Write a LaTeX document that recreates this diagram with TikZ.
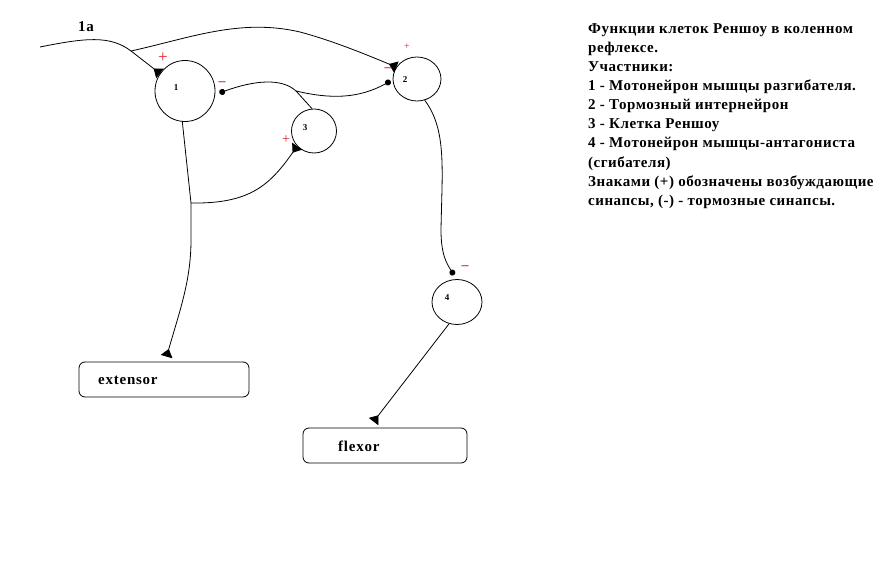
\documentclass[tikz,border=0pt]{standalone}
\usepackage{fontspec}
\setmainfont{Liberation Serif}
\usetikzlibrary{arrows.meta,calc,shapes.geometric}
\definecolor{sigred}{RGB}{225,30,40}
\begin{document}
\begin{tikzpicture}[x=1pt,y=-1pt,
  wire/.style={line width=0.8pt},
  cell/.style={draw,ellipse,line width=0.8pt,inner sep=0pt},
  musclebox/.style={draw,rounded corners=6pt,line width=0.8pt,minimum width=170pt,minimum height=35pt,inner sep=0pt},
  exc/.style={-{Triangle[reversed,length=8pt,width=12pt]}},
  inh/.style={-{Circle[length=6pt]}},
  num/.style={font=\bfseries\fontsize{9}{9}\selectfont},
  lbl/.style={font=\addfontfeature{LetterSpace=5}\bfseries\fontsize{15}{15}\selectfont,inner sep=0pt},
  sig/.style={text=sigred,font=\fontsize{11}{11}\selectfont,inner sep=0pt},
  neg/.style={text=sigred,font=\bfseries\fontsize{14}{14}\selectfont,inner sep=0pt},
]
\useasboundingbox (0,0) rectangle (892,567);
% cells
\node[cell,minimum width=60pt,minimum height=61pt,label={[num,xshift=-9pt,yshift=3pt]center:1}] (c1) at (185,91) {};
\node[cell,minimum width=48pt,minimum height=44pt,label={[num,xshift=-12pt,yshift=-1pt]center:2}] (c2) at (417,79) {};
\node[cell,minimum width=45pt,minimum height=44pt,label={[num,xshift=-9pt,yshift=3pt]center:3}] (c3) at (314,131) {};
\node[cell,minimum width=50pt,minimum height=45pt,label={[num,xshift=-10pt,yshift=4pt]center:4}] (c4) at (457,302) {};
% muscles
\node[musclebox,minimum width=170pt] (ext) at (164,379.5) {};
\node[lbl,anchor=west] (extl) at (98,380) {extensor};
\node[musclebox,minimum width=164pt] (flex) at (385,445.5) {};
\node[lbl,anchor=west] (flexl) at (338,446) {flexor};
% junctions
\coordinate (ia) at (40,47);
\coordinate (br) at (131,51);
\coordinate (j3) at (296,91);
\coordinate (j1) at (191,203);
\node[lbl] (ial) at (86,27) {1a};
% connectors
\draw[wire,exc] (ia) .. controls (85,38) and (110,35) .. (br) -- (c1.145);
\draw[wire,exc] (br) .. controls (190,38) and (240,18) .. (300,32) .. controls (330,40) and (360,52) .. (c2.150);
\draw[wire,inh] (c3.95) -- (j3) .. controls (282,78) and (255,80) .. ($(c1.east)+(4,2)$);
\draw[wire,inh] (j3) .. controls (330,99) and (358,99) .. ($(c2.west)+(-2,2)$);
\draw[wire] (c1.265) -- (j1);
\draw[wire,exc] (j1) -- (191,240) .. controls (191,280) and (180,310) .. ($(ext.north west)+(88,-5)$);
\draw[wire,exc] (j1) .. controls (250,204) and (270,185) .. (c3.222);
\draw[wire,inh] (c2.290) .. controls (447,130) and (442,170) .. (441,230) .. controls (441,255) and (447,264) .. ($(c4.north)+(-3,-4)$);
\draw[wire,exc] (c4.250) -- ($(flex.north west)+(71,-6)$);
% signs
\node[sig,font=\fontsize{17}{17}\selectfont] (p1) at (163,58) {+};
\node[neg] (m1) at (222,84) {–};
\node[sig,font=\fontsize{10}{10}\selectfont] (p2) at (407,47) {+};
\node[neg] (m2) at (388,70) {–};
\node[sig,font=\fontsize{14}{14}\selectfont] (p3) at (286,140) {+};
\node[neg] (m4) at (465,268) {–};
% legend
\node[anchor=north west,align=left,inner sep=0pt,font=\addfontfeature{LetterSpace=3.5}\bfseries\fontsize{15}{19.15}\selectfont] (legend) at (588,23) {Функции клеток Реншоу в коленном\\рефлексе.\\Участники:\\1 - Мотонейрон мышцы разгибателя.\\2 - Тормозный интернейрон\\3 - Клетка Реншоу\\4 - Мотонейрон мышцы-антагониста\\(сгибателя)\\Знаками (+) обозначены возбуждающие\\синапсы, (-) - тормозные синапсы.};
\end{tikzpicture}
\end{document}
